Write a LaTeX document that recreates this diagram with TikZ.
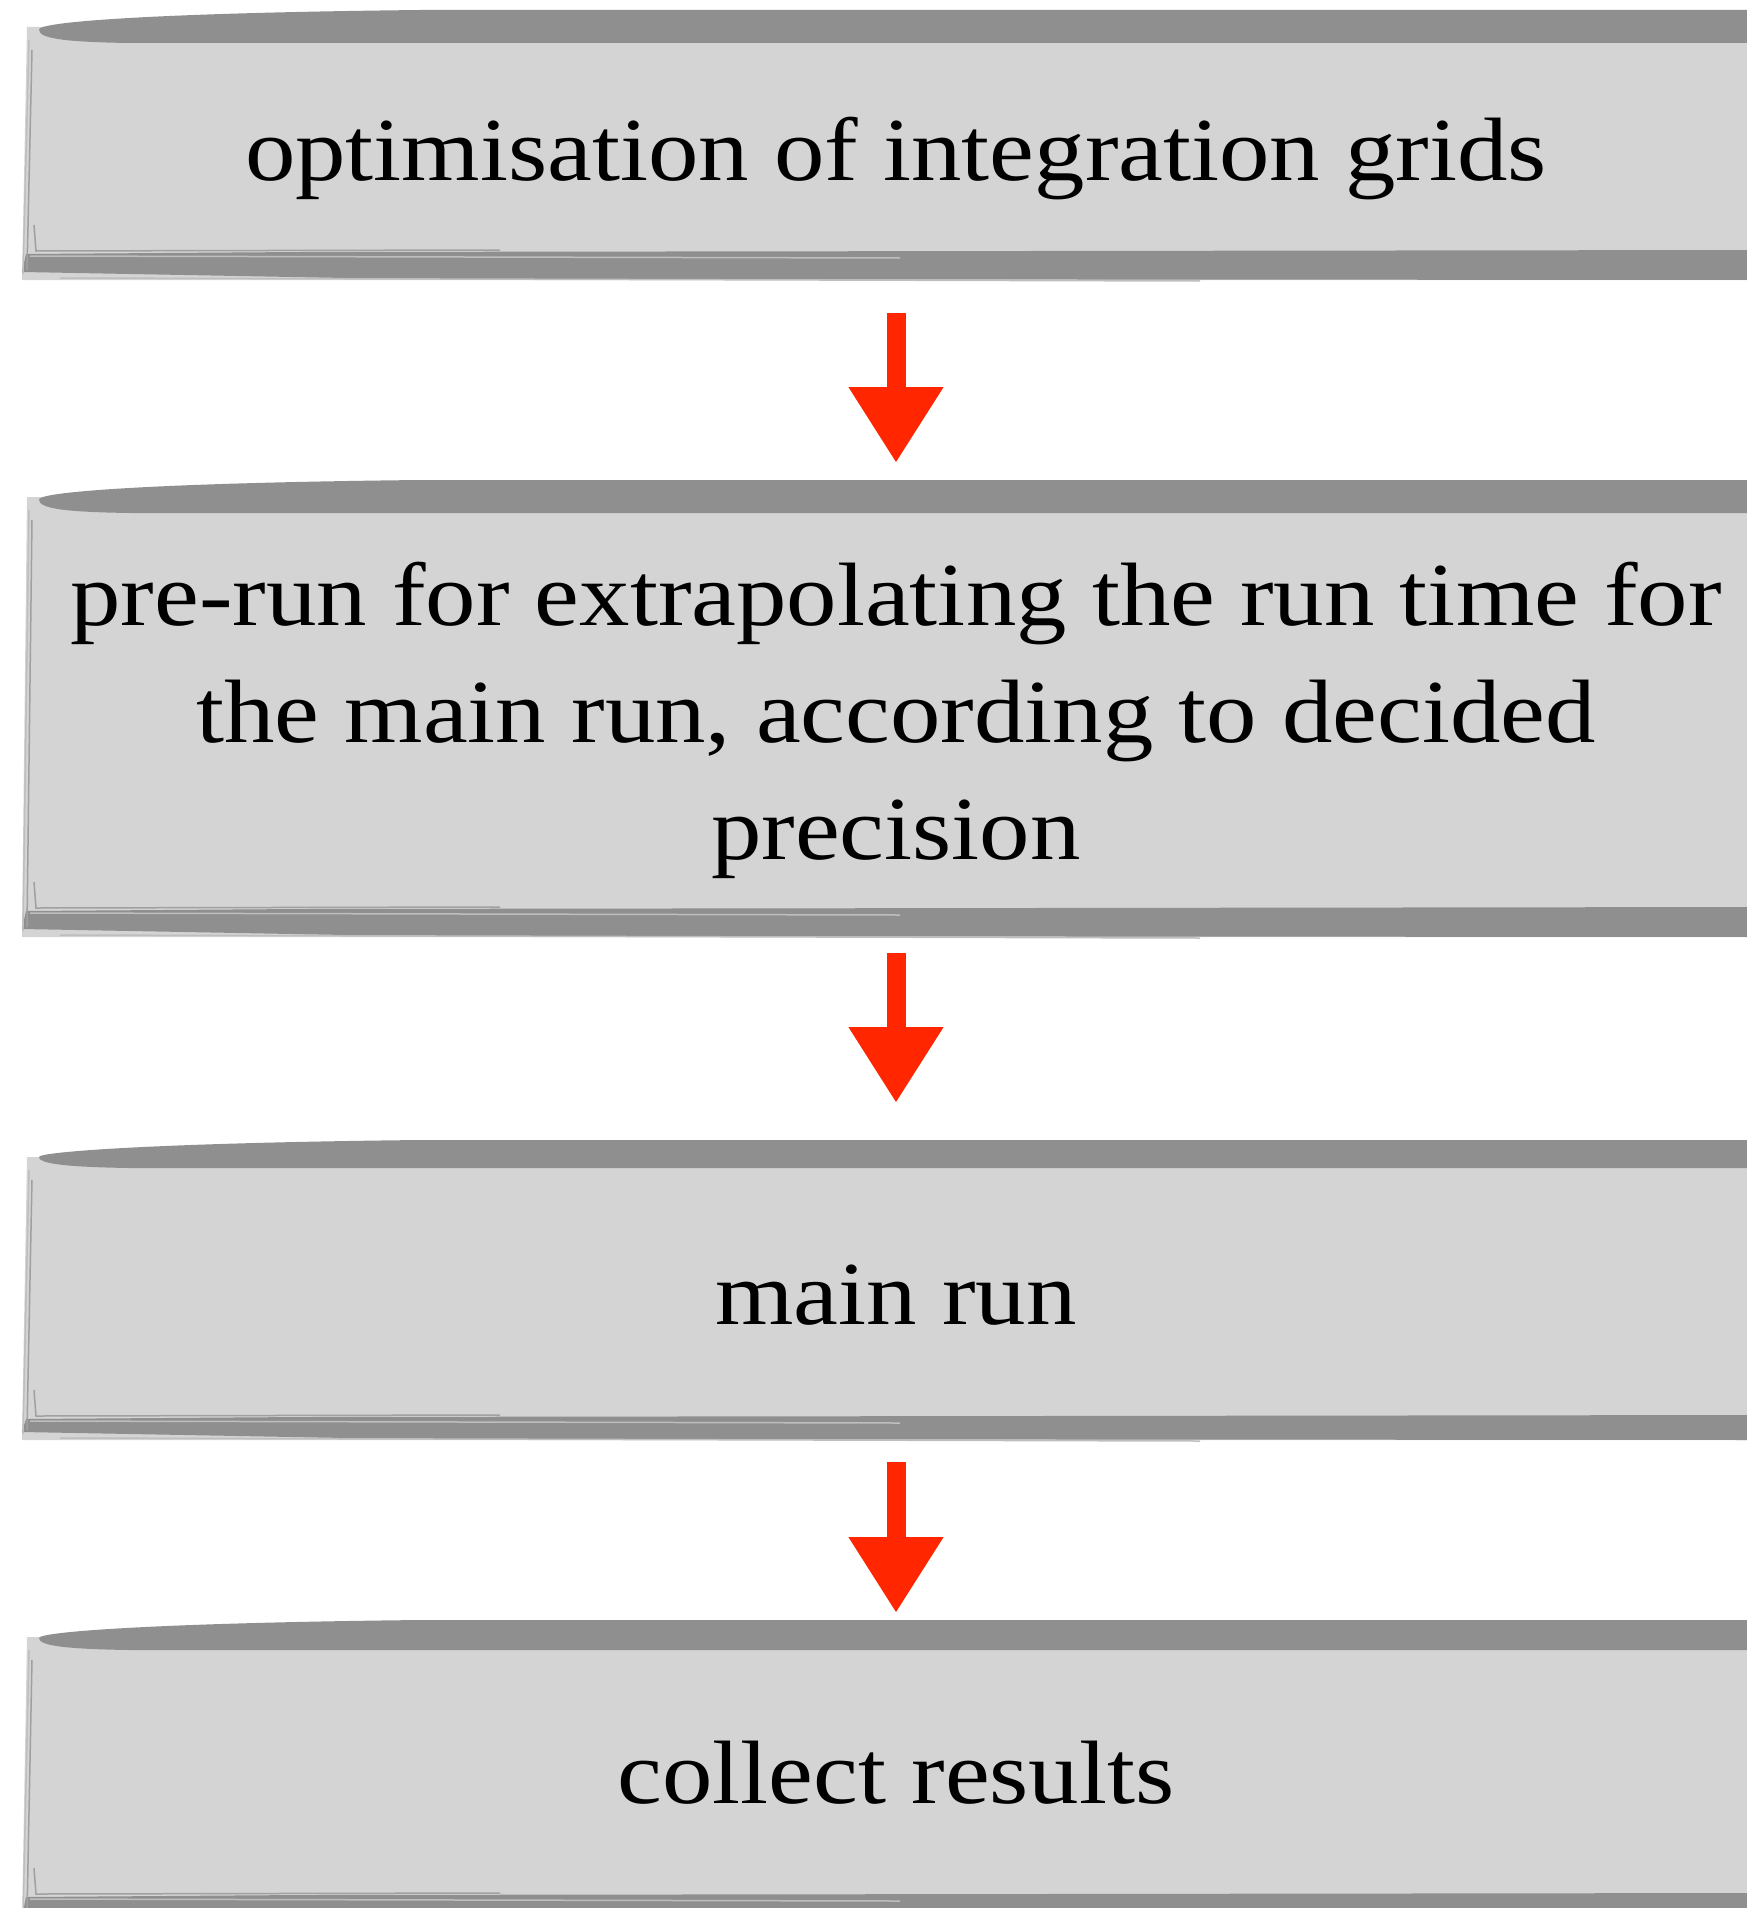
\documentclass[tikz,border=0pt]{standalone}
\usepackage{fontspec}
\setmainfont{Liberation Serif}[FakeStretch=1.12]
\usetikzlibrary{arrows.meta}
\definecolor{bodygray}{RGB}{212,212,212}
\definecolor{bandgray}{RGB}{143,143,143}
\definecolor{edgegray}{RGB}{160,160,160}
\definecolor{edgelight}{RGB}{190,190,190}
\definecolor{arrowred}{RGB}{255,38,0}
\tikzset{
  boxtext/.style={font=\fontsize{90}{117}\selectfont, align=center, inner sep=0pt, text=black},
  flowarrow/.style={draw=arrowred, line width=19pt, -{Triangle[width=95pt,length=75pt,line width=1pt]}},
  sketchline/.style={edgegray, line width=1.5pt},
  sketchlight/.style={edgelight, line width=1.5pt}
}
% #1 band top, #2 band bottom, #3 body bottom, #4 bottom band bottom
\newcommand\traybox[4]{%
  \fill[bodygray] (27,{#1+17}) -- (1760,{#1+17}) -- (1760,#4) -- (22,#4) -- cycle;
  \fill[bandgray] (39,{(#1+#2)/2+3}) .. controls (39,{#1+12}) and (150,{#1+3}) .. (420,#1)
     -- (1760,#1) -- (1760,#2) -- (130,#2) .. controls (60,{#2-1}) and (39,{#2-5}) .. (39,{(#1+#2)/2+3});
  \fill[bandgray] (26,{#3+4}) -- (300,{#3+2}) -- (1760,#3) -- (1760,#4) -- (400,{#4-1}) -- (22,{#4-8}) -- cycle;
  \draw[sketchline] (32,{#1+40}) -- (27,{#4-10});
  \draw[sketchlight] (29,{#1+30}) -- (23,{#4-6});
  \draw[sketchline] (34,{#3-25}) -- (36,{#3+1}) -- (500,{#3});
  \draw[sketchlight] (30,{#3+6}) -- (900,{#3+8});
  \draw[sketchlight] (60,{#4-2}) -- (1200,{#4+1});
}
\begin{document}
\begin{tikzpicture}[x=1pt,y=-1pt]
\useasboundingbox (0,0) rectangle (1747,1908);
\clip (0,0) rectangle (1747,1908);
\fill[white] (0,0) rectangle (1747,1908);

\traybox{10}{43}{250}{280}
\traybox{480}{513}{907}{937}
\traybox{1140}{1168}{1415}{1440}
\traybox{1620}{1650}{1893}{1925}

\node[boxtext, anchor=base] (grids) at (896,180) {optimisation of integration grids};
\node[boxtext, anchor=base] (prerun) at (896,859) {pre-run for extrapolating the run time for\\the main run, according to decided\\precision};
\node[boxtext, anchor=base] (mainrun) at (896,1324) {main run};
\node[boxtext, anchor=base] (collect) at (896,1803) {collect results};

\coordinate (a1s) at (896,313);
\coordinate (a1e) at (896,462);
\coordinate (a2s) at (896,953);
\coordinate (a2e) at (896,1102);
\coordinate (a3s) at (896,1462);
\coordinate (a3e) at (896,1612);
\draw[flowarrow] (a1s) -- (a1e);
\draw[flowarrow] (a2s) -- (a2e);
\draw[flowarrow] (a3s) -- (a3e);
\end{tikzpicture}
\end{document}
